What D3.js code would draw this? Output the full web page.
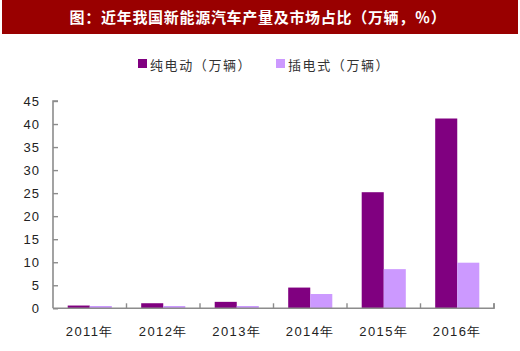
<!DOCTYPE html>
<html><head><meta charset="utf-8">
<script src="https://cdn.jsdelivr.net/npm/d3@7"></script>
<style>
html,body{margin:0;padding:0;background:#fff;}
svg{display:block;}
</style></head>
<body><svg id="c" width="520" height="351"></svg>
<script>
const title = "图：近年我国新能源汽车产量及市场占比（万辆，％）";
const categories = ["2011年","2012年","2013年","2014年","2015年","2016年"];
const seriesNames = ["纯电动（万辆）","插电式（万辆）"];
const pureEV = [0.6, 1.1, 1.4, 4.5, 25.2, 41.2];
const plugIn = [0.5, 0.5, 0.5, 3.1, 8.5, 9.9];
const yTicks = [0,5,10,15,20,25,30,35,40,45];
const colors = ["#800080","#cc99ff"];

(function(){
const svg = d3.select("#c");
const cjk = "'Noto Sans CJK SC','Noto Sans',sans-serif";
const latin = "Arial,'Liberation Sans',Helvetica,sans-serif";

// title band
svg.append("rect").attr("x",2).attr("y",0).attr("width",516).attr("height",34).attr("fill","#990000");
svg.append("text").attr("x",258).attr("y",23).attr("text-anchor","middle")
  .attr("fill","#fff").attr("font-family",cjk).attr("font-weight","bold")
  .attr("font-size",15).attr("letter-spacing",0.7).text(title);

const pL=53, pR=494, pT=101, pB=308.3;
const x = d3.scaleBand().domain(categories).range([pL,pR]).padding(0);
const y = d3.scaleLinear().domain([0,45]).range([pB,pT]);
const gw = x.bandwidth()*0.6;
const x1 = d3.scaleBand().domain(seriesNames).range([0,gw]).padding(0);

const data = categories.map((c,i)=>({cat:c, vals:[pureEV[i], plugIn[i]]}));

// bars
const g = svg.append("g");
data.forEach(d=>{
  d.vals.forEach((v,j)=>{
    g.append("rect")
      .attr("x", x(d.cat) + (x.bandwidth()-gw)/2 + x1(seriesNames[j]))
      .attr("y", y(v))
      .attr("width", x1.bandwidth())
      .attr("height", y(0)-y(v))
      .attr("fill", colors[j]);
  });
});

const axisColor="#8c8c8c";
// y axis
const ya = svg.append("g").attr("transform",`translate(${pL},0)`)
  .call(d3.axisRight(y).tickValues(yTicks).tickSize(5).tickFormat(""));
ya.select(".domain").attr("stroke",axisColor).attr("stroke-width",1.6).attr("d",`M5,${pT}H0V${pB}`);
ya.selectAll(".tick line").attr("stroke",axisColor).attr("stroke-width",1.4);
svg.append("g").selectAll("text").data(yTicks).join("text")
  .attr("x",40).attr("y",d=>y(d)+4.5).attr("text-anchor","end")
  .attr("font-family",latin).attr("font-size",13).attr("letter-spacing",1)
  .attr("fill","#222").text(d=>d);

// x axis
const xa = svg.append("g").attr("transform",`translate(0,${pB})`)
  .call(d3.axisTop(x).tickSize(0).tickFormat(""));
xa.select(".domain").attr("stroke",axisColor).attr("stroke-width",1.6).attr("d",`M${pL},0H${pR}V-5`);
xa.selectAll(".tick").remove();
const bounds = categories.map(c=>x(c)).slice(1).concat([pR]);
svg.append("g").selectAll("line").data(bounds).join("line")
  .attr("x1",d=>d).attr("x2",d=>d).attr("y1",pB).attr("y2",pB-5)
  .attr("stroke",axisColor).attr("stroke-width",1.4);
svg.append("g").selectAll("text").data(categories).join("text")
  .attr("x",d=>x(d)+x.bandwidth()/2).attr("y",336).attr("text-anchor","middle")
  .attr("font-family",latin).attr("font-size",13).attr("letter-spacing",1.4)
  .attr("fill","#222").text(d=>d);

// legend
const legX=[138,276];
seriesNames.forEach((s,j)=>{
  svg.append("rect").attr("x",legX[j]).attr("y",59).attr("width",9).attr("height",9).attr("fill",colors[j]);
  svg.append("text").attr("x",legX[j]+12).attr("y",69.5)
    .attr("font-family",cjk).attr("font-size",13).attr("letter-spacing",1.6)
    .attr("fill","#333").text(s);
});
})();
</script></body></html>
